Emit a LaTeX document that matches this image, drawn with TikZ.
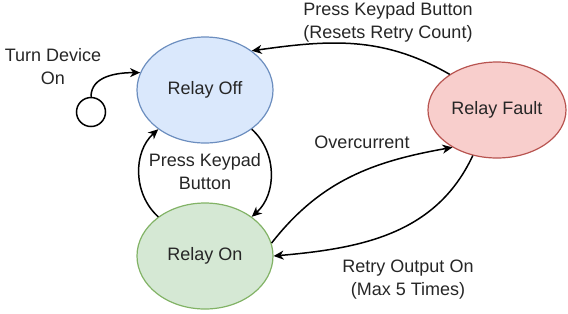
\documentclass[tikz,border=0pt]{standalone}
\usepackage{fontspec}
\setmainfont{Liberation Sans}
\usetikzlibrary{arrows.meta,shapes.geometric}
\definecolor{offfill}{HTML}{DAE8FC}
\definecolor{offline}{HTML}{6C8EBF}
\definecolor{onfill}{HTML}{D5E8D4}
\definecolor{online}{HTML}{82B366}
\definecolor{faultfill}{HTML}{F8CECC}
\definecolor{faultline}{HTML}{B85450}
\tikzset{
  state/.style={ellipse, draw, line width=0.6pt, inner sep=0pt,
    minimum width=68pt, minimum height=53pt,
    font=\fontsize{9}{11}\selectfont, text=black!85},
  trans/.style={-{Stealth[length=5pt,width=4.5pt,inset=1.5pt]}, line width=0.75pt},
  lbl/.style={align=center, font=\fontsize{9}{11.5}\selectfont, text=black!85},
}

\begin{document}
\begin{tikzpicture}[x=0.5pt, y=-0.5pt]
  \useasboundingbox (0,0) rectangle (568,313);
  % Etats
  \node[state, fill=offfill, draw=offline] (off) at (205,90) {Relay Off};
  \node[state, fill=onfill, draw=online] (on) at (205,256) {Relay On};
  \node[state, fill=faultfill, draw=faultline, minimum width=69pt, minimum height=48pt] (fault) at (497,110) {Relay Fault};
  \node[circle, draw, line width=0.75pt, minimum size=14.5pt, inner sep=0pt] (init) at (91,112) {};
  % Etiquettes
  \node[lbl] (lturnon) at (53,67) {Turn Device\\On};
  \node[lbl] (lreset) at (388,22) {Press Keypad Button\\(Resets Retry Count)};
  \node[lbl] (lpress) at (205,172) {Press Keypad\\Button};
  \node[lbl] (lover) at (362,142) {Overcurrent};
  \node[lbl] (lretry) at (408,280) {Retry Output On\\(Max 5 Times)};
  % Transitions
  \draw[trans] (init.north) to[out=90, in=180] (off.165);
  \draw[trans] (fault.143) to[out=150, in=8] (off.40);
  \draw[trans] (off.320) to[out=-42, in=42] (on.40);
  \draw[trans] (on.140) to[out=138, in=222] (off.220);
  \draw[trans] (on.11) to[out=52, in=190] (fault.220);
  \draw[trans] (fault.242) to[out=245, in=5] (on.east);
\end{tikzpicture}
\end{document}
